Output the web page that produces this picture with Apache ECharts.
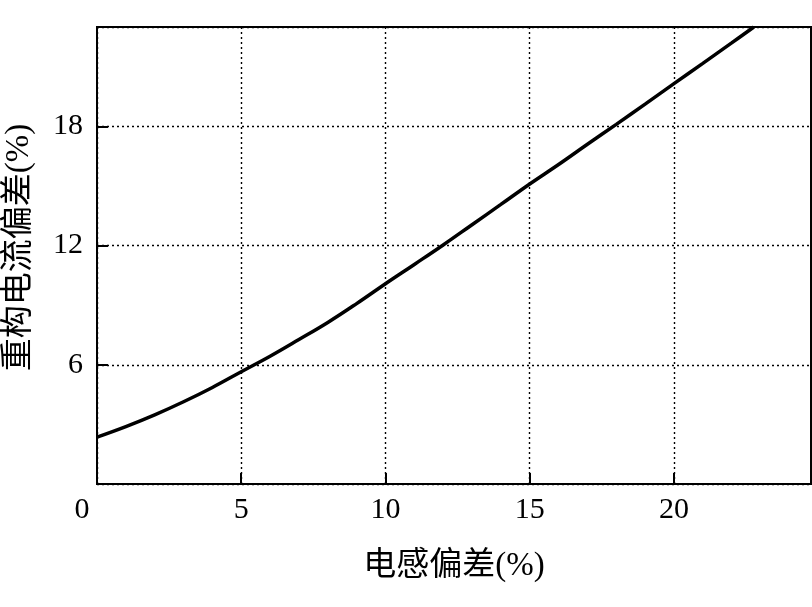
<!DOCTYPE html>
<html>
<head>
<meta charset="utf-8">
<script src="https://cdn.jsdelivr.net/npm/echarts@6/dist/echarts.min.js"></script>
<style>
html,body{margin:0;padding:0;background:#fff;}
#c{width:812px;height:607px;}
</style>
</head>
<body>
<div id="c"></div>
<script>
// Data
const xValues = [0, 1, 2, 3, 4, 5, 6, 7, 8, 9, 10, 11, 12, 13, 14, 15, 16, 17, 18, 19, 20, 21, 22, 22.77];
const yValues = [2.36, 2.89, 3.48, 4.14, 4.86, 5.65, 6.43, 7.27, 8.13, 9.08, 10.08, 11.05, 12.03, 13.05, 14.07, 15.1, 16.08, 17.1, 18.1, 19.12, 20.15, 21.17, 22.2, 23];
const xTicks = [0, 5, 10, 15, 20];
const yTicks = [6, 12, 18];
const xName = '电感偏差(%)';
const yName = '重构电流偏差(%)';

const chart = echarts.init(document.getElementById('c'), null, {renderer: 'canvas'});
const numFont = '"Liberation Serif", "DejaVu Serif", serif';
const cjkFont = '"Liberation Serif", "Noto Sans CJK SC", serif';
const gridLine = {show: true, lineStyle: {color: '#000', width: 1.4, type: [2, 3]}};

chart.setOption({
  animation: false,
  backgroundColor: '#fff',
  grid: {left: 97, top: 27, right: 1, bottom: 123, show: true, borderColor: '#000', borderWidth: 2,
         containLabel: false, outerBoundsMode: 'none'},
  xAxis: {
    type: 'value', min: 0, max: 24.75, interval: 5,
    name: xName, nameLocation: 'middle', nameGap: 66,
    nameTextStyle: {fontFamily: cjkFont, fontSize: 33, color: '#000'},
    axisLine: {show: true, lineStyle: {color: '#000', width: 2}},
    axisTick: {show: true, inside: true, length: 11, lineStyle: {color: '#000', width: 2}},
    axisLabel: {
      margin: 11, color: '#000', fontFamily: numFont, fontSize: 30,
      formatter: v => xTicks.indexOf(v) < 0 ? '' : (v === 0 ? '{z|0}' : String(v)),
      rich: {z: {fontFamily: numFont, fontSize: 30, color: '#000', padding: [0, 30, 0, 0]}}
    },
    splitLine: gridLine
  },
  yAxis: {
    type: 'value', min: 0, max: 23, interval: 6,
    name: yName, nameLocation: 'middle', nameGap: 61,
    nameTextStyle: {fontFamily: cjkFont, fontSize: 33, color: '#000', padding: [0, 0, 0, 16]},
    axisLine: {show: true, lineStyle: {color: '#000', width: 2}},
    axisTick: {show: true, inside: true, length: 11, lineStyle: {color: '#000', width: 2}},
    axisLabel: {
      margin: 14, color: '#000', fontFamily: numFont, fontSize: 30,
      formatter: v => yTicks.indexOf(v) < 0 ? '' : String(v)
    },
    splitLine: gridLine
  },
  series: [{
    type: 'line',
    data: xValues.map((x, i) => [x, yValues[i]]),
    smooth: 0.4,
    showSymbol: false,
    lineStyle: {color: '#000', width: 3.5},
    clip: true
  }]
});
</script>
</body>
</html>
